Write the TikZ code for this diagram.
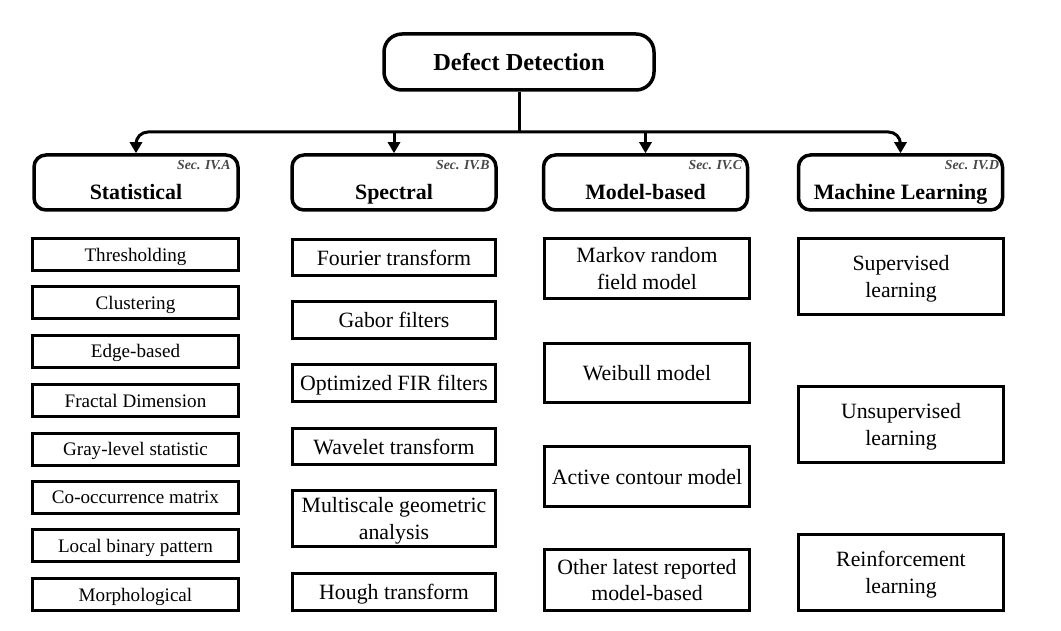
\documentclass[tikz,border=0pt]{standalone}
\usepackage{fontspec}
\setmainfont{Liberation Serif}
\usetikzlibrary{arrows.meta}
\definecolor{secgray}{HTML}{484848}
\begin{document}
\begin{tikzpicture}[x=1pt,y=-1pt,
 topbox/.style={draw, line width=3.5pt, rounded corners=18pt, minimum width=270pt, minimum height=56pt, inner sep=0pt, font=\bfseries\fontsize{24.4}{28}\selectfont},
 hdrbox/.style={draw, line width=3.5pt, rounded corners=12pt, minimum width=204pt, minimum height=55pt, inner sep=0pt},
 hdrtext/.style={font=\bfseries\fontsize{21.9}{25}\selectfont, anchor=base, inner sep=0pt},
 sec/.style={font=\bfseries\itshape\fontsize{13.8}{15}\selectfont, text=secgray, anchor=base east, inner sep=0pt},
 itembox/.style={draw, line width=3pt, inner sep=0pt, align=center, text depth=0pt},
 statitem/.style={itembox, minimum width=206pt, minimum height=32pt, font=\fontsize{19.1}{23}\selectfont},
 bigitem/.style={itembox, minimum width=203pt, font=\fontsize{21.8}{26.5}\selectfont},
 conn/.style={line width=3pt},
 arr/.style={line width=3pt, -{Triangle[length=11pt,width=12pt]}}
]
\useasboundingbox (0,0) rectangle (1061,631);

% top
\node[topbox] (top) at (519,62) {Defect Detection};

% headers
\node[hdrbox] (stat) at (136,182.5) {};
\node[hdrbox] (spec) at (394,182.5) {};
\node[hdrbox] (mod) at (645.5,182.5) {};
\node[hdrbox] (ml) at (900.5,182.5) {};

\node[hdrtext] (stattxt) at ([yshift=-17.5pt]stat.center) {Statistical};
\node[hdrtext] (spectxt) at ([yshift=-17.5pt]spec.center) {Spectral};
\node[hdrtext] (modtxt) at ([yshift=-17.5pt]mod.center) {Model-based};
\node[hdrtext] (mltxt) at ([yshift=-17.5pt]ml.center) {Machine Learning};

\node[sec] (seca) at ([xshift=-9pt,yshift=-16.5pt]stat.north east) {Sec. IV.A};
\node[sec] (secb) at ([xshift=-8pt,yshift=-16.5pt]spec.north east) {Sec. IV.B};
\node[sec] (secc) at ([xshift=-7pt,yshift=-16.5pt]mod.north east) {Sec. IV.C};
\node[sec] (secd) at ([xshift=-5pt,yshift=-16.5pt]ml.north east) {Sec. IV.D};

% connectors
\coordinate (j) at (519,132);
\draw[conn] (top.south) -- (j);
\draw[arr, rounded corners=12pt] (j) -| (stat.north);
\draw[arr, rounded corners=12pt] (j) -| (ml.north);
\draw[arr] (j -| spec.north) -- (spec.north);
\draw[arr] (j -| mod.north) -- (mod.north);

% statistical items
\node[statitem] (s1) at (135.5,254.5) {Thresholding};
\node[statitem] (s2) at (135.5,302.5) {Clustering};
\node[statitem] (s3) at (135.5,351) {Edge-based};
\node[statitem] (s4) at (135.5,400.5) {Fractal Dimension};
\node[statitem] (s5) at (135.5,449) {Gray-level statistic};
\node[statitem] (s6) at (135.5,497) {Co-occurrence matrix};
\node[statitem] (s7) at (135.5,545.5) {Local binary pattern};
\node[statitem] (s8) at (135.5,594.5) {Morphological};

% spectral items
\node[bigitem, minimum height=36pt] (p1) at (394,257.5) {Fourier transform};
\node[bigitem, minimum height=37pt] (p2) at (394,320) {Gabor filters};
\node[bigitem, minimum height=37pt] (p3) at (394,383) {Optimized FIR filters};
\node[bigitem, minimum height=36pt] (p4) at (394,446.5) {Wavelet transform};
\node[bigitem, minimum height=56pt] (p5) at (394,518.5) {Multiscale geometric\\analysis};
\node[bigitem, minimum height=37pt] (p6) at (394,592) {Hough transform};

% model-based items
\node[bigitem, minimum width=205pt, minimum height=60pt] (m1) at (647,268.5) {Markov random\\field model};
\node[bigitem, minimum width=205pt, minimum height=59pt] (m2) at (647,373) {Weibull model};
\node[bigitem, minimum width=205pt, minimum height=60pt] (m3) at (647,476.5) {Active contour model};
\node[bigitem, minimum width=205pt, minimum height=61pt] (m4) at (647,580) {Other latest reported\\model-based};

% machine learning items
\node[bigitem, minimum width=205pt, minimum height=76pt] (l1) at (901,276.5) {Supervised\\learning};
\node[bigitem, minimum width=205pt, minimum height=76pt] (l2) at (901,424.5) {Unsupervised\\learning};
\node[bigitem, minimum width=205pt, minimum height=76pt] (l3) at (901,572.5) {Reinforcement\\learning};
\end{tikzpicture}
\end{document}
